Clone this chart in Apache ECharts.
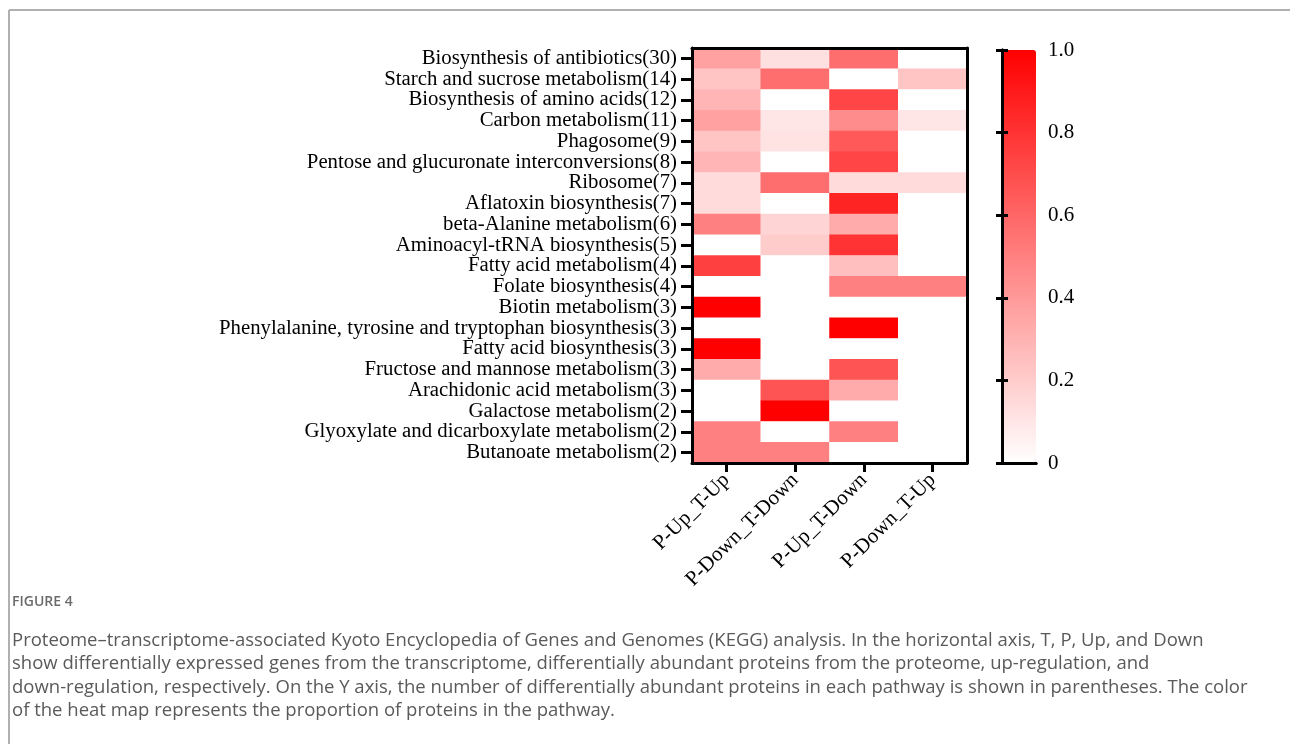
<!DOCTYPE html>
<html>
<head>
<meta charset="utf-8">
<script src="https://cdn.jsdelivr.net/npm/echarts@6/dist/echarts.min.js"></script>
<style>
html,body{margin:0;padding:0;background:#fff;}
#chart{width:1290px;height:744px;}
</style>
</head>
<body>
<div id="chart"></div>
<script>
// ---- data ----
var pathways = [
  'Biosynthesis of antibiotics(30)',
  'Starch and sucrose metabolism(14)',
  'Biosynthesis of amino acids(12)',
  'Carbon metabolism(11)',
  'Phagosome(9)',
  'Pentose and glucuronate interconversions(8)',
  'Ribosome(7)',
  'Aflatoxin biosynthesis(7)',
  'beta-Alanine metabolism(6)',
  'Aminoacyl-tRNA biosynthesis(5)',
  'Fatty acid metabolism(4)',
  'Folate biosynthesis(4)',
  'Biotin metabolism(3)',
  'Phenylalanine, tyrosine and tryptophan biosynthesis(3)',
  'Fatty acid biosynthesis(3)',
  'Fructose and mannose metabolism(3)',
  'Arachidonic acid metabolism(3)',
  'Galactose metabolism(2)',
  'Glyoxylate and dicarboxylate metabolism(2)',
  'Butanoate metabolism(2)'
];
var groups = ['P-Up_T-Up', 'P-Down_T-Down', 'P-Up_T-Down', 'P-Down_T-Up'];
var pUpTUp     = [0.37, 0.23, 0.29, 0.37, 0.23, 0.29, 0.14, 0.14, 0.50, 0.00, 0.75, 0.00, 1.00, 0.00, 1.00, 0.33, 0.00, 0.00, 0.50, 0.50];
var pDownTDown = [0.12, 0.57, 0.00, 0.10, 0.11, 0.00, 0.57, 0.00, 0.17, 0.20, 0.00, 0.00, 0.00, 0.00, 0.00, 0.00, 0.67, 1.00, 0.00, 0.50];
var pUpTDown   = [0.57, 0.00, 0.73, 0.45, 0.65, 0.73, 0.14, 0.86, 0.33, 0.80, 0.25, 0.50, 0.00, 1.00, 0.00, 0.67, 0.33, 0.00, 0.50, 0.00];
var pDownTUp   = [0.00, 0.23, 0.00, 0.10, 0.00, 0.00, 0.14, 0.00, 0.00, 0.00, 0.00, 0.50, 0.00, 0.00, 0.00, 0.00, 0.00, 0.00, 0.00, 0.00];
var colorbarTicks = [0, 0.2, 0.4, 0.6, 0.8, 1.0];
var captionTitle = 'FIGURE 4';
var captionLines = [
  'Proteome\u2013transcriptome-associated Kyoto Encyclopedia of Genes and Genomes (KEGG) analysis. In the horizontal axis, T, P, Up, and Down',
  'show differentially expressed genes from the transcriptome, differentially abundant proteins from the proteome, up-regulation, and',
  'down-regulation, respectively. On the Y axis, the number of differentially abundant proteins in each pathway is shown in parentheses. The color',
  'of the heat map represents the proportion of proteins in the pathway.'
];

// ---- build ----
var cols = [pUpTUp, pDownTDown, pUpTDown, pDownTUp];
var heatData = [];
cols.forEach(function (arr, ci) {
  arr.forEach(function (v, ri) { heatData.push([ci, ri, v]); });
});

var serif = 'Liberation Serif, Times New Roman, serif';
var line3 = {show: true, lineStyle: {color: '#000', width: 3}};

var graphics = [
  {type: 'line', shape: {x1: 9, y1: 10, x2: 1290, y2: 10}, style: {stroke: '#b0b0b0', lineWidth: 2}},
  {type: 'line', shape: {x1: 9, y1: 10, x2: 9, y2: 744}, style: {stroke: '#b0b0b0', lineWidth: 2}},
  {type: 'text', left: 12, top: 595, style: {text: captionTitle, font: '600 14px "Open Sans"', fill: '#6a6a6a'}}
];
captionLines.forEach(function (t, i) {
  graphics.push({type: 'text', left: 12, top: 631 + i * 23.5, style: {text: t, font: '18.5px "Open Sans"', fill: '#5a5a5a'}});
});

var chart = echarts.init(document.getElementById('chart'));
chart.setOption({
  animation: false,
  backgroundColor: '#fff',
  grid: [
    {left: 692, top: 48, width: 275, height: 415},
    {left: 1002, top: 50, width: 34, height: 413}
  ],
  xAxis: [
    {type: 'category', gridIndex: 0, data: groups, position: 'bottom', z: 10,
     axisLine: line3,
     axisTick: {show: true, alignWithLabel: true, length: 9, lineStyle: {width: 3, color: '#000'}},
     axisLabel: {rotate: 45, margin: 14, fontFamily: serif, fontSize: 21, color: '#000'},
     splitLine: {show: false}},
    {type: 'category', gridIndex: 0, data: groups, position: 'top', z: 10,
     axisLine: line3, axisTick: {show: false}, axisLabel: {show: false}},
    {type: 'value', gridIndex: 1, position: 'bottom', min: 0, max: 1, z: 10,
     axisLine: line3, axisTick: {show: false}, axisLabel: {show: false}, splitLine: {show: false}},
    {type: 'value', gridIndex: 1, position: 'top', min: 0, max: 1, z: 10,
     axisLine: line3, axisTick: {show: false}, axisLabel: {show: false}, splitLine: {show: false}}
  ],
  yAxis: [
    {type: 'category', gridIndex: 0, data: pathways, inverse: true, position: 'left', z: 10,
     axisLine: line3,
     axisTick: {show: true, alignWithLabel: true, length: 11, lineStyle: {width: 3, color: '#000'}},
     axisLabel: {margin: 15, fontFamily: serif, fontSize: 20.8, color: '#000', interval: 0},
     splitLine: {show: false}},
    {type: 'category', gridIndex: 0, data: pathways, inverse: true, position: 'right', z: 10,
     axisLine: line3, axisTick: {show: false}, axisLabel: {show: false}},
    {type: 'value', gridIndex: 1, position: 'left', min: 0, max: 1, interval: 0.2, z: 10,
     axisLine: line3,
     axisTick: {show: true, inside: true, length: 6, lineStyle: {width: 3, color: '#000'}},
     axisLabel: {show: false}, splitLine: {show: false}},
    {type: 'value', gridIndex: 1, position: 'right', min: 0, max: 1, interval: 0.2, z: 10,
     axisLine: line3,
     axisTick: {show: true, inside: true, length: 6, lineStyle: {width: 3, color: '#000'}},
     axisLabel: {show: true, margin: 12, fontFamily: serif, fontSize: 21, color: '#000',
       formatter: function (v) {
         var hit = colorbarTicks.filter(function (t) { return Math.abs(t - v) < 1e-6; });
         if (!hit.length) return '';
         return v === 0 ? '0' : hit[0].toFixed(1);
       }},
     splitLine: {show: false}}
  ],
  visualMap: {
    type: 'continuous', min: 0, max: 1, seriesIndex: 0,
    left: 1002, top: 50, itemWidth: 34, itemHeight: 413, padding: 0,
    calculable: false, text: ['', ''], showLabel: false, hoverLink: false,
    inRange: {color: ['#ffffff', '#ff0000']}
  },
  series: [{
    type: 'heatmap', xAxisIndex: 0, yAxisIndex: 0, data: heatData,
    itemStyle: {borderWidth: 0}, emphasis: {disabled: true}
  }],
  graphic: graphics
});
</script>
</body>
</html>
